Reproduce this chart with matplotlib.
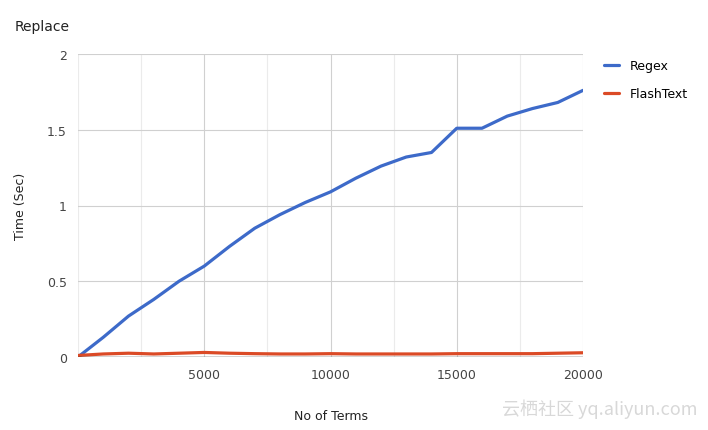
import matplotlib
matplotlib.use("Agg")
import matplotlib.pyplot as plt
from matplotlib.ticker import MultipleLocator

terms = [0,1000,2000,3000,4000,5000,6000,7000,8000,9000,10000,11000,12000,13000,14000,15000,16000,17000,18000,19000,20000]
regex = [0,0.13,0.27,0.38,0.5,0.6,0.73,0.85,0.94,1.02,1.09,1.18,1.26,1.32,1.35,1.51,1.51,1.59,1.64,1.68,1.76]
flash = [0.01,0.02,0.025,0.02,0.025,0.03,0.025,0.022,0.02,0.02,0.022,0.02,0.02,0.02,0.02,0.022,0.022,0.022,0.022,0.025,0.028]

fig = plt.figure(figsize=(7.08,4.31), dpi=100)
ax = fig.add_axes([78/708, 1-358/431, 505/708, 303/431])
ax.plot(terms, regex, color='#3d6ac9', lw=2.3, label='Regex', solid_capstyle='round')
ax.plot(terms, flash, color='#db4a26', lw=2.3, label='FlashText', solid_capstyle='round')
ax.set_xlim(0,20000); ax.set_ylim(0,2)
ax.xaxis.set_minor_locator(MultipleLocator(2500))
ax.set_xticks([5000,10000,15000,20000])
ax.set_yticks([0,0.5,1,1.5,2]); ax.set_yticklabels(['0','0.5','1','1.5','2'])
ax.grid(which='major', color='#d0d0d0', lw=0.8)
ax.grid(which='minor', axis='x', color='#ebebeb', lw=0.8)
ax.set_axisbelow(True)
for s in ax.spines.values(): s.set_visible(False)
ax.axhline(0, color='#333333', lw=1)
ax.tick_params(which='both', length=0, labelsize=9, colors='#444444', pad=8)
ax.set_xlabel('No of Terms', fontsize=9, color='#222222', labelpad=20)
ax.set_ylabel('Time (Sec)', fontsize=9, color='#222222', labelpad=14)
fig.text(15/708, 1-27/431, 'Replace', fontsize=10, color='#222222', va='center')
ax.legend(loc='upper left', bbox_to_anchor=(1.02,1.02), frameon=False, fontsize=9, handlelength=1.2, labelspacing=1.2)
fig.text(0.985, 0.05, '云栖社区 yq.aliyun.com', family=['Noto Sans CJK SC','DejaVu Sans'], fontsize=13, color='#d8d8d8', ha='right', va='center')
fig.savefig('out.png', dpi=100)
